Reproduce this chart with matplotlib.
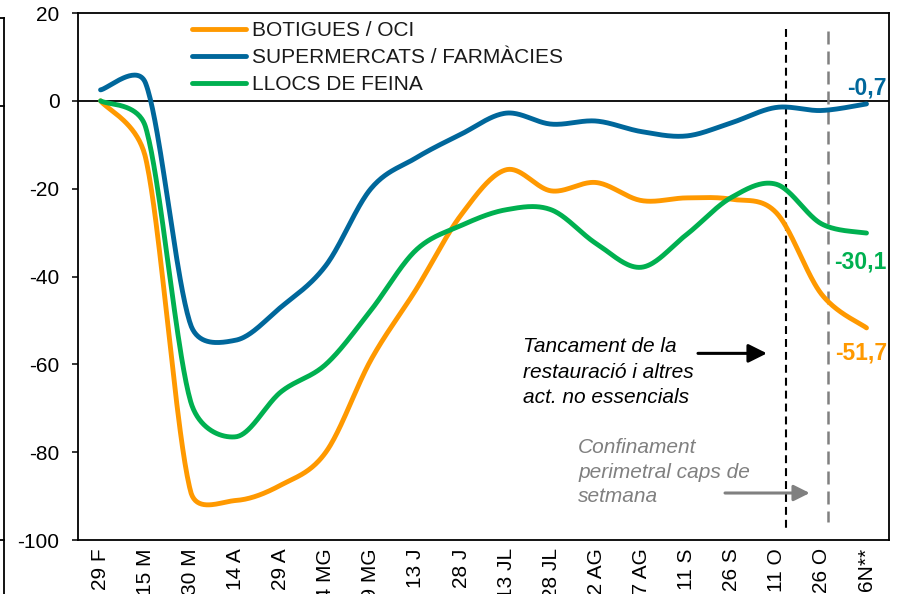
import numpy as np
import matplotlib
matplotlib.use("Agg")
import matplotlib.pyplot as plt
from matplotlib.lines import Line2D

plt.rcParams['font.family'] = ['Liberation Sans', 'DejaVu Sans']
plt.rcParams['axes.unicode_minus'] = False

# dates (x axis) and series values
dates = ['29 F', '15 M', '30 M', '14 A', '29 A', '14 MG', '29 MG', '13 J', '28 J',
         '13 JL', '28 JL', '12 AG', '27 AG', '11 S', '26 S', '11 O', '26 O', '6N**']
botigues = [0, -13, -89, -91, -87.5, -80, -59, -43, -26, -15.7, -20.5, -18.6,
            -22.7, -22.1, -22.4, -25.5, -44, -51.7]
supermercats = [2.5, 4, -51, -54.5, -47, -37.5, -20, -13, -7.6, -2.8, -5.3, -4.6,
                -7, -8, -5, -1.5, -2.2, -0.7]
feina = [0, -6, -68.5, -76.5, -66.3, -60, -47.7, -34, -28.4, -24.8, -24.8, -32.5,
         -37.9, -30.5, -22, -19, -28, -30.1]
noms = ['BOTIGUES / OCI', 'SUPERMERCATS / FARMÀCIES', 'LLOCS DE FEINA']
colors = ['#FF9900', '#00679B', '#00B050']

# 16 oct (tancament restauracio) i 30 oct (confinament perimetral)
events = [15.21, 16.14]

# px per unit, used only so the smoothing works in screen space like excel
SX, SY = 45.1, 4.4


def excel_smooth(x, y, n=40):
    pts = np.column_stack([np.asarray(x, float) * SX, np.asarray(y, float) * SY])
    m = len(pts)
    out = []
    for i in range(m - 1):
        p0 = pts[max(i - 1, 0)]
        p1 = pts[i]
        p2 = pts[i + 1]
        p3 = pts[min(i + 2, m - 1)]
        half = np.linalg.norm(p2 - p1) / 2
        d1 = (p2 - p0) / 6
        d2 = (p3 - p1) / 6
        n1 = np.linalg.norm(d1)
        n2 = np.linalg.norm(d2)
        if n1 > half:
            d1 = d1 * half / n1
        if n2 > half:
            d2 = d2 * half / n2
        c1 = p1 + d1
        c2 = p2 - d2
        t = np.linspace(0, 1, n)[:, None]
        seg = (1 - t) ** 3 * p1 + 3 * (1 - t) ** 2 * t * c1 + 3 * (1 - t) * t ** 2 * c2 + t ** 3 * p2
        out.append(seg if i == 0 else seg[1:])
    out = np.vstack(out)
    return out[:, 0] / SX, out[:, 1] / SY


fig = plt.figure(figsize=(8.98, 5.94), dpi=100)
ax = fig.add_axes([0.0869, 0.0909, 0.9031, 0.8872])

x = np.arange(len(dates))
lines = []
for vals, nom, c in zip([botigues, supermercats, feina], noms, colors):
    sx, sy = excel_smooth(x, vals)
    l, = ax.plot(sx, sy, color=c, lw=3.5, solid_capstyle='round', label=nom, zorder=3)
    lines.append(l)

ax.axhline(0, color='black', lw=1.3, zorder=2)

ax.set_xlim(-0.5, 17.5)
ax.set_ylim(-100, 20)
ax.set_yticks(range(-100, 21, 20))
ax.set_xticks(x)
ax.set_xticklabels(dates, rotation=90, va='top', ha='center')
ax.tick_params(axis='x', length=0, pad=6, labelsize=15)
ax.tick_params(axis='y', length=4.3, width=1.1, direction='out', pad=9, labelsize=15)
for s in ax.spines.values():
    s.set_linewidth(1.3)
    s.set_color('black')

# linies verticals
ax.plot([events[0]] * 2, [16.4, -97.7], color='black', lw=1.5, dashes=(3.8, 2.4), zorder=2)
ax.plot([events[1]] * 2, [16.0, -96.0], color='#808080', lw=1.8, dashes=(5.2, 2.8), zorder=2)

# ultims valors
ax.text(17.45, 3.0, '-0,7', color=colors[1], fontsize=16.5, fontweight='bold',
        ha='right', va='center')
ax.text(17.45, -36.6, '-30,1', color=colors[2], fontsize=16.5, fontweight='bold',
        ha='right', va='center')
ax.text(17.45, -57.5, '-51,7', color=colors[0], fontsize=16.5, fontweight='bold',
        ha='right', va='center')

# anotacions
for i, t in enumerate(['Tancament de la', 'restauració i altres', 'act. no essencials']):
    ax.text(9.38, -57.3 - i * 5.7, t, fontsize=15, style='italic', color='black',
            ha='left', va='baseline')
ax.annotate('', xy=(14.79, -57.5), xytext=(13.26, -57.5),
            arrowprops=dict(arrowstyle='-|>', color='black', lw=2.2, mutation_scale=28,
                            shrinkA=0, shrinkB=0))

for i, t in enumerate(['Confinament', 'perimetral caps de', 'setmana']):
    ax.text(10.6, -80.2 - i * 5.6, t, fontsize=15, style='italic', color='#808080',
            ha='left', va='baseline')
ax.annotate('', xy=(15.74, -89.3), xytext=(13.86, -89.3),
            arrowprops=dict(arrowstyle='-|>', color='#808080', lw=2.2, mutation_scale=24,
                            shrinkA=0, shrinkB=0))

leg = ax.legend(handles=lines, loc='upper left', bbox_to_anchor=(0.1406, 0.984),
                frameon=False, fontsize=15, handlelength=2.6, handletextpad=0.3,
                labelspacing=0.37, borderpad=0, borderaxespad=0)
for t in leg.get_texts():
    t.set_color('#1a1a1a')

# tros del grafic del costat
fw, fh = 898, 594
fig.add_artist(Line2D([4 / fw, 4 / fw], [1 - 18 / fh, 0], color='black', lw=1.3))
for yy in [18, 106, 540]:
    fig.add_artist(Line2D([0, 4 / fw], [1 - yy / fh] * 2, color='black', lw=1.3))

fig.savefig('out.png', dpi=100)
